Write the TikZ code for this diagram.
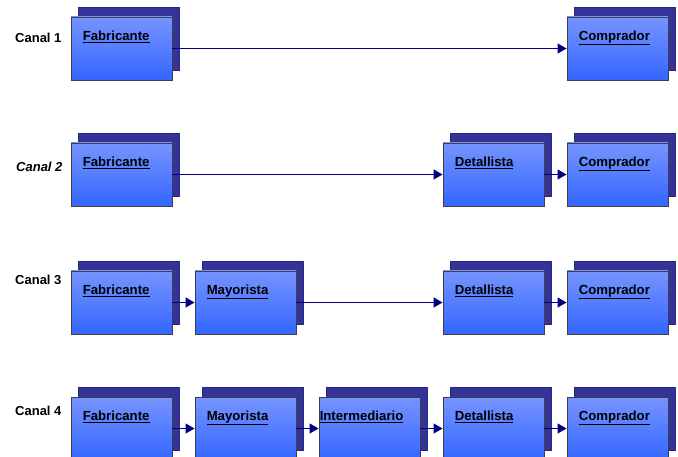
\documentclass[tikz,border=0pt]{standalone}
\usepackage{fontspec}
\setmainfont{Liberation Sans}
\usepackage{xcolor}
\usepackage{tikz}
\usetikzlibrary{arrows.meta, shadows}

\definecolor{boxtop}{RGB}{118,148,255}
\definecolor{boxbot}{RGB}{51,102,255}
\definecolor{shadowblue}{RGB}{51,51,153}
\definecolor{arrownavy}{RGB}{0,0,128}

\tikzset{
    actor/.style={draw=black!75, line width=0.9pt, top color=boxtop, bottom color=boxbot,
        minimum width=101pt, minimum height=63pt, inner sep=0pt,
        general shadow={fill=shadowblue, draw=shadowblue!80!black, line width=0.5pt,
            shadow xshift=7.5pt, shadow yshift=9.5pt}},
    actorname/.style={anchor=base west, inner sep=0pt, xshift=12pt, yshift=-24pt,
        font=\fontsize{13.2}{15}\selectfont\bfseries},
    canal/.style={anchor=base west, inner sep=0pt, font=\fontsize{13}{15}\selectfont\bfseries},
    flow/.style={draw=arrownavy, line width=1.1pt, -{Triangle[length=9pt, width=10pt]}}
}

\begin{document}
\begin{tikzpicture}[x=1pt, y=-1pt]
    \useasboundingbox (0,0) rectangle (678,457);

    % Canal 1
    \node[canal] (canal1) at (15,42.5) {Canal 1};
    \node[actor, label={[actorname]north west:\underline{Fabricante}}] (f1) at (121.5,48.5) {};
    \node[actor, label={[actorname]north west:\underline{Comprador}}] (c1) at (617.5,48.5) {};
    \draw[flow] (f1) -- (c1);

    % Canal 2
    \node[canal, font=\fontsize{13}{15}\selectfont\bfseries\itshape] (canal2) at (16,172) {Canal 2};
    \node[actor, label={[actorname]north west:\underline{Fabricante}}] (f2) at (121.5,174.5) {};
    \node[actor, label={[actorname]north west:\underline{Detallista}}] (d2) at (493.5,174.5) {};
    \node[actor, label={[actorname]north west:\underline{Comprador}}] (c2) at (617.5,174.5) {};
    \draw[flow] (f2) -- (d2);
    \draw[flow] (d2) -- (c2);

    % Canal 3
    \node[canal] (canal3) at (15,285) {Canal 3};
    \node[actor, label={[actorname]north west:\underline{Fabricante}}] (f3) at (121.5,302.5) {};
    \node[actor, label={[actorname]north west:\underline{Mayorista}}] (m3) at (245.5,302.5) {};
    \node[actor, label={[actorname]north west:\underline{Detallista}}] (d3) at (493.5,302.5) {};
    \node[actor, label={[actorname]north west:\underline{Comprador}}] (c3) at (617.5,302.5) {};
    \draw[flow] (f3) -- (m3);
    \draw[flow] (m3) -- (d3);
    \draw[flow] (d3) -- (c3);

    % Canal 4
    \node[canal] (canal4) at (15,415) {Canal 4};
    \node[actor, label={[actorname]north west:\underline{Fabricante}}] (f4) at (121.5,428.5) {};
    \node[actor, label={[actorname]north west:\underline{Mayorista}}] (m4) at (245.5,428.5) {};
    \node[actor, label={[actorname, xshift=-11pt]north west:\underline{Intermediario}}] (i4) at (369.5,428.5) {};
    \node[actor, label={[actorname]north west:\underline{Detallista}}] (d4) at (493.5,428.5) {};
    \node[actor, label={[actorname]north west:\underline{Comprador}}] (c4) at (617.5,428.5) {};
    \draw[flow] (f4) -- (m4);
    \draw[flow] (m4) -- (i4);
    \draw[flow] (i4) -- (d4);
    \draw[flow] (d4) -- (c4);
\end{tikzpicture}
\end{document}
